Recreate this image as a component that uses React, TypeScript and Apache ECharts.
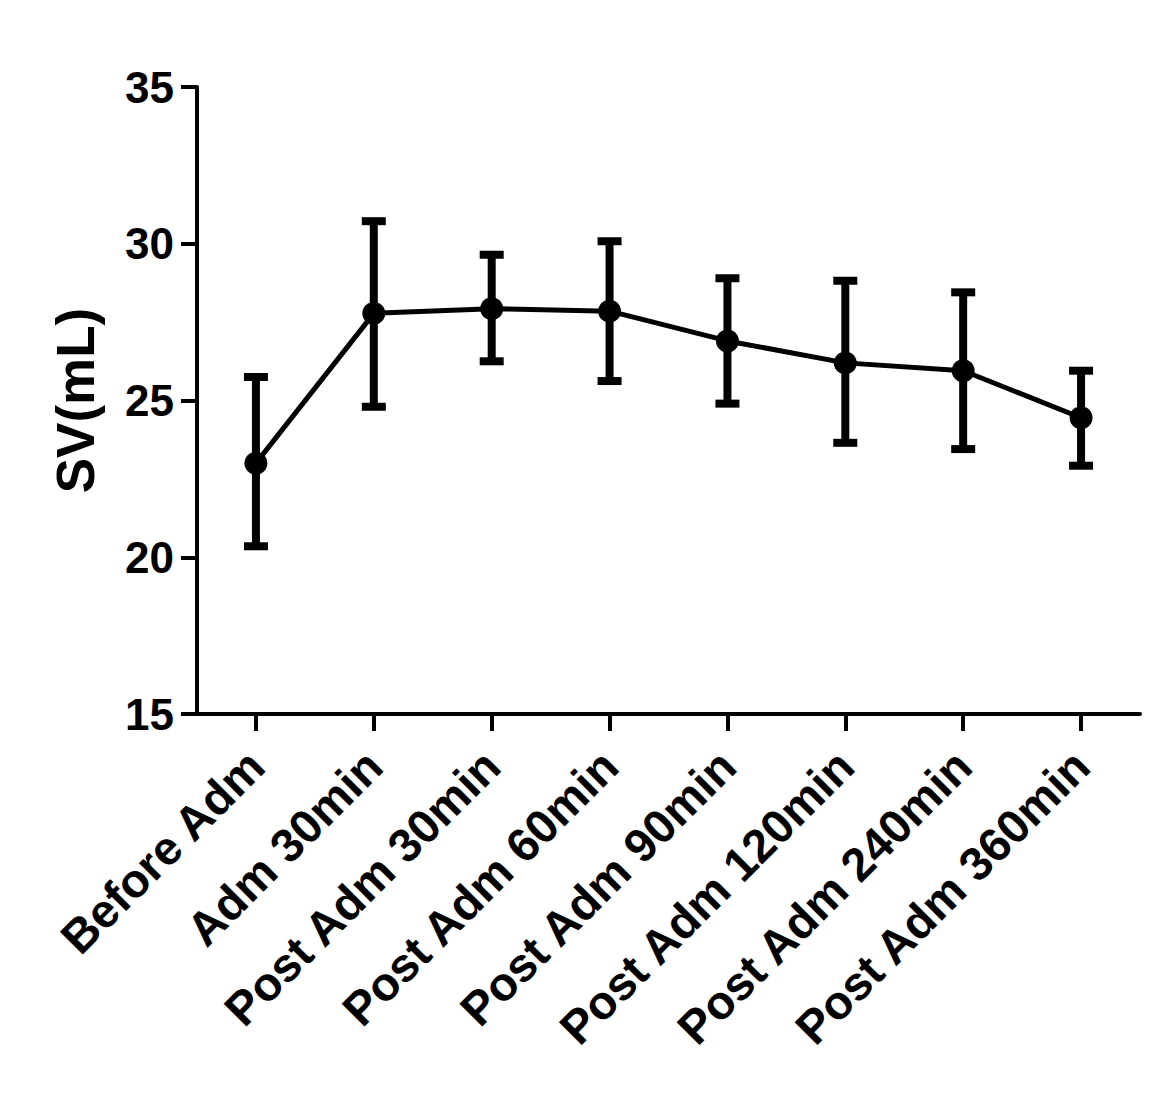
import React, { useEffect, useRef } from "react";
import * as echarts from "echarts";

const categories = [
  "Before Adm",
  "Adm 30min",
  "Post Adm 30min",
  "Post Adm 60min",
  "Post Adm 90min",
  "Post Adm 120min",
  "Post Adm 240min",
  "Post Adm 360min",
];
const means = [23.0, 27.78, 27.93, 27.85, 26.9, 26.2, 25.95, 24.45];
const upper = [25.75, 30.72, 29.65, 30.08, 28.9, 28.82, 28.45, 25.95];
const lower = [20.35, 24.8, 26.25, 25.62, 24.9, 23.65, 23.45, 22.92];
const yTicks = [15, 20, 25, 30, 35];

const FONT = "Liberation Sans, Arial, Helvetica, sans-serif";

export default function App() {
  const ref = useRef<HTMLDivElement>(null);
  useEffect(() => {
    if (!ref.current) return;
    const chart = echarts.init(ref.current, null, { renderer: "svg" });
    const errData = categories.map((c, i) => [i, lower[i], upper[i]]);
    chart.setOption({
      animation: false,
      backgroundColor: "#ffffff",
      grid: { left: 189, right: 21, top: 79, bottom: 386, containLabel: false },
      xAxis: {
        type: "category",
        data: categories,
        boundaryGap: true,
        axisLine: { show: true, lineStyle: { color: "#000", width: 4 } },
        axisTick: { show: true, alignWithLabel: true, length: 17, lineStyle: { color: "#000", width: 4 } },
        axisLabel: {
          rotate: 45,
          interval: 0,
          margin: 44,
          color: "#000",
          fontSize: 47,
          fontWeight: "bold",
          fontFamily: FONT,
        },
        splitLine: { show: false },
      },
      yAxis: {
        type: "value",
        min: yTicks[0],
        max: yTicks[yTicks.length - 1],
        interval: 5,
        name: "SV(mL)",
        nameLocation: "middle",
        nameGap: 95,
        nameRotate: 90,
        nameTextStyle: { color: "#000", fontSize: 53, fontWeight: "bold", fontFamily: FONT },
        axisLine: { show: true, lineStyle: { color: "#000", width: 4 } },
        axisTick: { show: true, length: 16, lineStyle: { color: "#000", width: 4 } },
        axisLabel: {
          margin: 23,
          color: "#000",
          fontSize: 44,
          fontWeight: "bold",
          fontFamily: FONT,
        },
        splitLine: { show: false },
      },
      series: [
        {
          type: "custom",
          name: "err",
          data: errData,
          z: 3,
          renderItem: (params: any, api: any) => {
            const x = api.value(0);
            const lo = api.coord([x, api.value(1)]);
            const hi = api.coord([x, api.value(2)]);
            const capHalf = 12;
            const style = { stroke: "#000", lineWidth: 8, fill: "none" };
            return {
              type: "group",
              children: [
                { type: "line", shape: { x1: hi[0], y1: hi[1], x2: lo[0], y2: lo[1] }, style },
                { type: "line", shape: { x1: hi[0] - capHalf, y1: hi[1], x2: hi[0] + capHalf, y2: hi[1] }, style },
                { type: "line", shape: { x1: lo[0] - capHalf, y1: lo[1], x2: lo[0] + capHalf, y2: lo[1] }, style },
              ],
            };
          },
        },
        {
          type: "line",
          name: "SV",
          data: means,
          z: 4,
          symbol: "circle",
          symbolSize: 23,
          lineStyle: { color: "#000", width: 5 },
          itemStyle: { color: "#000" },
        },
      ],
    });
    return () => chart.dispose();
  }, []);
  return <div ref={ref} style={{ width: 1153, height: 1092 }} />;
}
